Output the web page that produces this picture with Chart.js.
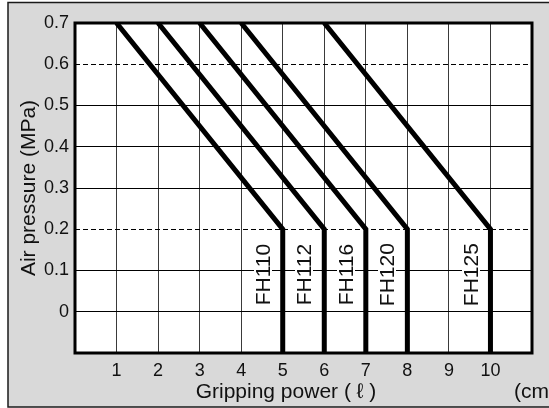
<!DOCTYPE html>
<html>
<head>
<meta charset="utf-8">
<script src="https://cdn.jsdelivr.net/npm/chart.js@4.4.0/dist/chart.umd.min.js"></script>
<style>
  html, body { margin: 0; padding: 0; background: #fff; }
  #wrap { width: 549px; height: 408px; }
</style>
</head>
<body>
<div id="wrap"><canvas id="chart"></canvas></div>
<script>
// each model: gripping power where the curve leaves 0.7 MPa and where it bends at 0.2 MPa
const models = ['FH110', 'FH112', 'FH116', 'FH120', 'FH125'];
const startPower = [1, 2, 3, 4, 6];
const bendPower = [5, 6, 7, 8, 10];
const topPressure = 0.7;
const bendPressure = 0.2;
const bottomPressure = -0.1;

// axis ticks
const xTickLabels = ['1', '2', '3', '4', '5', '6', '7', '8', '9', '10'];
const yTickLabels = ['0', '0.1', '0.2', '0.3', '0.4', '0.5', '0.6', '0.7'];
const dashedLevels = [0.6, 0.2];

const FONT = '"Liberation Sans", Arial, sans-serif';

const datasets = models.map((m, i) => ({
  label: m,
  data: [
    { x: startPower[i], y: topPressure },
    { x: bendPower[i], y: bendPressure },
    { x: bendPower[i], y: bottomPressure }
  ],
  borderColor: '#000',
  borderWidth: 5,
  borderJoinStyle: 'miter',
  pointRadius: 0,
  tension: 0,
  fill: false
}));

const framePlugin = {
  id: 'frame',
  beforeDraw(chart) {
    const { ctx, chartArea: a } = chart;
    ctx.save();
    ctx.fillStyle = '#fff';
    ctx.fillRect(0, 0, chart.width, chart.height);
    ctx.fillStyle = '#d9d9d9';
    ctx.fillRect(8, 2, chart.width, 405);
    ctx.strokeStyle = '#1a1a1a';
    ctx.lineWidth = 1.5;
    ctx.strokeRect(8, 2.5, chart.width + 10, 404.5);
    ctx.fillStyle = '#fff';
    ctx.fillRect(a.left, a.top, a.width, a.height);
    ctx.restore();
  },
  afterDatasetsDraw(chart) {
    const { ctx, scales } = chart;
    ctx.save();
    ctx.font = '21px ' + FONT;
    ctx.textAlign = 'center';
    ctx.textBaseline = 'middle';
    models.forEach((m, i) => {
      // label sits just left of the vertical part, around 0.1 MPa
      const x = scales.x.getPixelForValue(bendPower[i] - 0.45);
      const y = scales.y.getPixelForValue(0.09);
      ctx.save();
      ctx.translate(x, y);
      ctx.rotate(-Math.PI / 2);
      ctx.strokeStyle = '#fff';
      ctx.lineWidth = 4;
      ctx.strokeText(m, 0, 0);
      ctx.fillStyle = '#111';
      ctx.fillText(m, 0, 0);
      ctx.restore();
    });
    ctx.restore();
  },
  afterDraw(chart) {
    const { ctx, chartArea: a } = chart;
    ctx.save();
    // plot frame
    ctx.strokeStyle = '#000';
    ctx.lineWidth = 3;
    ctx.strokeRect(a.left, a.top, a.width, a.height);
    // x axis title and unit
    ctx.fillStyle = '#111';
    ctx.font = '21px ' + FONT;
    ctx.textBaseline = 'alphabetic';
    ctx.textAlign = 'center';
    ctx.fillText('Gripping power ( \u2113 )', 286, 398);
    ctx.textAlign = 'left';
    ctx.fillText('(cm)', 514, 398);
    ctx.restore();
  }
};

const ctx = document.getElementById('chart').getContext('2d');
const chart = new Chart(ctx, {
  type: 'line',
  data: { datasets: datasets },
  plugins: [framePlugin],
  options: {
    responsive: true,
    maintainAspectRatio: false,
    animation: false,
    layout: { padding: { top: 23, right: 17, left: 0, bottom: 0 } },
    plugins: { legend: { display: false }, tooltip: { enabled: false } },
    scales: {
      x: {
        type: 'linear',
        min: 0,
        max: 11,
        afterFit(scale) { scale.height = 55; },
        ticks: {
          stepSize: 1,
          padding: 7,
          color: '#111',
          font: { family: FONT, size: 18 },
          maxRotation: 0,
          callback: (v) => xTickLabels[Math.round(v) - 1] || ''
        },
        grid: { color: '#3a3a3a', lineWidth: 1, drawTicks: false },
        border: { display: false }
      },
      y: {
        type: 'linear',
        min: bottomPressure,
        max: topPressure,
        afterFit(scale) { scale.width = 75; },
        ticks: {
          stepSize: 0.1,
          padding: 6,
          color: '#111',
          font: { family: FONT, size: 18 },
          callback: (v) => {
            const i = Math.round(v * 10);
            return i >= 0 ? yTickLabels[i] : '';
          }
        },
        grid: { color: '#000', lineWidth: 1, drawTicks: false },
        border: {
          display: false,
          dash: (c) => {
            if (!c.tick) return [];
            const dashed = dashedLevels.some(d => Math.abs(d - c.tick.value) < 1e-6);
            return dashed ? [5, 3] : [];
          }
        },
        title: {
          display: true,
          text: 'Air pressure (MPa)',
          color: '#111',
          font: { family: FONT, size: 21 },
          padding: { top: 17, bottom: 0 }
        }
      }
    }
  }
});
</script>
</body>
</html>
